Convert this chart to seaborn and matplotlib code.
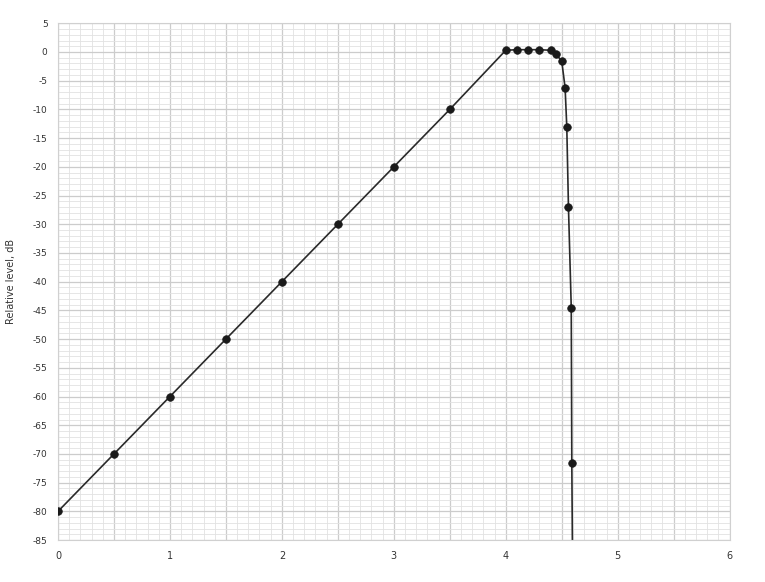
import numpy as np
import pandas as pd
import matplotlib.pyplot as plt
from matplotlib.ticker import MultipleLocator
import seaborn as sns

# log frequency (decades) and response in dB
log_freq = [0.0, 0.5, 1.0, 1.5, 2.0, 2.5, 3.0, 3.5, 4.0,
            4.1, 4.2, 4.3, 4.4, 4.45, 4.5, 4.53, 4.545, 4.56, 4.585, 4.59, 4.595]
gain_db = [-80, -70, -60, -50, -40, -30, -20, -10, 0.3,
           0.4, 0.4, 0.4, 0.3, -0.4, -1.6, -6.2, -13, -27, -44.5, -71.5, -85]
# the last point is only where the line leaves the axes (no marker)
has_marker = [True] * (len(log_freq) - 1) + [False]

x_ticks = [0, 0.5, 1, 1.5, 2, 2.5, 3, 3.5, 4, 4.5, 5, 5.5, 6]
x_labels = ["0", "", "1", "", "2", "", "3", "", "4", "", "5", "", "6"]
y_ticks = list(range(5, -90, -5))

df = pd.DataFrame({"x": log_freq, "y": gain_db, "m": has_marker})

sns.set_style("white")
plt.rcParams['font.family'] = ['DejaVu Sans']

fig = plt.figure(figsize=(7.65, 5.82), dpi=100)
ax = fig.add_axes([0.0758, 0.072, 0.878, 0.888])

sns.lineplot(data=df, x="x", y="y", ax=ax, color="#2a2a2a", linewidth=1.2,
             sort=False, estimator=None)
sns.scatterplot(data=df[df["m"]], x="x", y="y", ax=ax, color="#1a1a1a",
                s=30, marker="o", edgecolor="#1a1a1a", linewidth=0.5, zorder=5)

ax.set_xlim(0, 6)
ax.set_ylim(-85, 5)
ax.set_xticks(x_ticks)
ax.set_xticklabels(x_labels, fontsize=7, color="#333333")
ax.xaxis.set_minor_locator(MultipleLocator(0.1))
ax.set_yticks(y_ticks)
ax.set_yticklabels([str(t) for t in y_ticks], fontsize=6.5, color="#333333")
ax.yaxis.set_minor_locator(MultipleLocator(1))

ax.grid(which="major", color="#cccccc", linewidth=0.9)
ax.grid(which="minor", color="#e2e2e2", linewidth=0.6)
ax.set_axisbelow(True)

ax.tick_params(axis="both", which="major", length=4, color="#555555", direction="out")
ax.tick_params(axis="both", which="minor", length=0)
for s in ax.spines.values():
    s.set_color("#d0d0d0")
    s.set_linewidth(0.8)

ax.set_xlabel("")
ax.set_ylabel("Relative level, dB", fontsize=7, color="#333333", labelpad=12)

fig.savefig("out.png", dpi=100)
